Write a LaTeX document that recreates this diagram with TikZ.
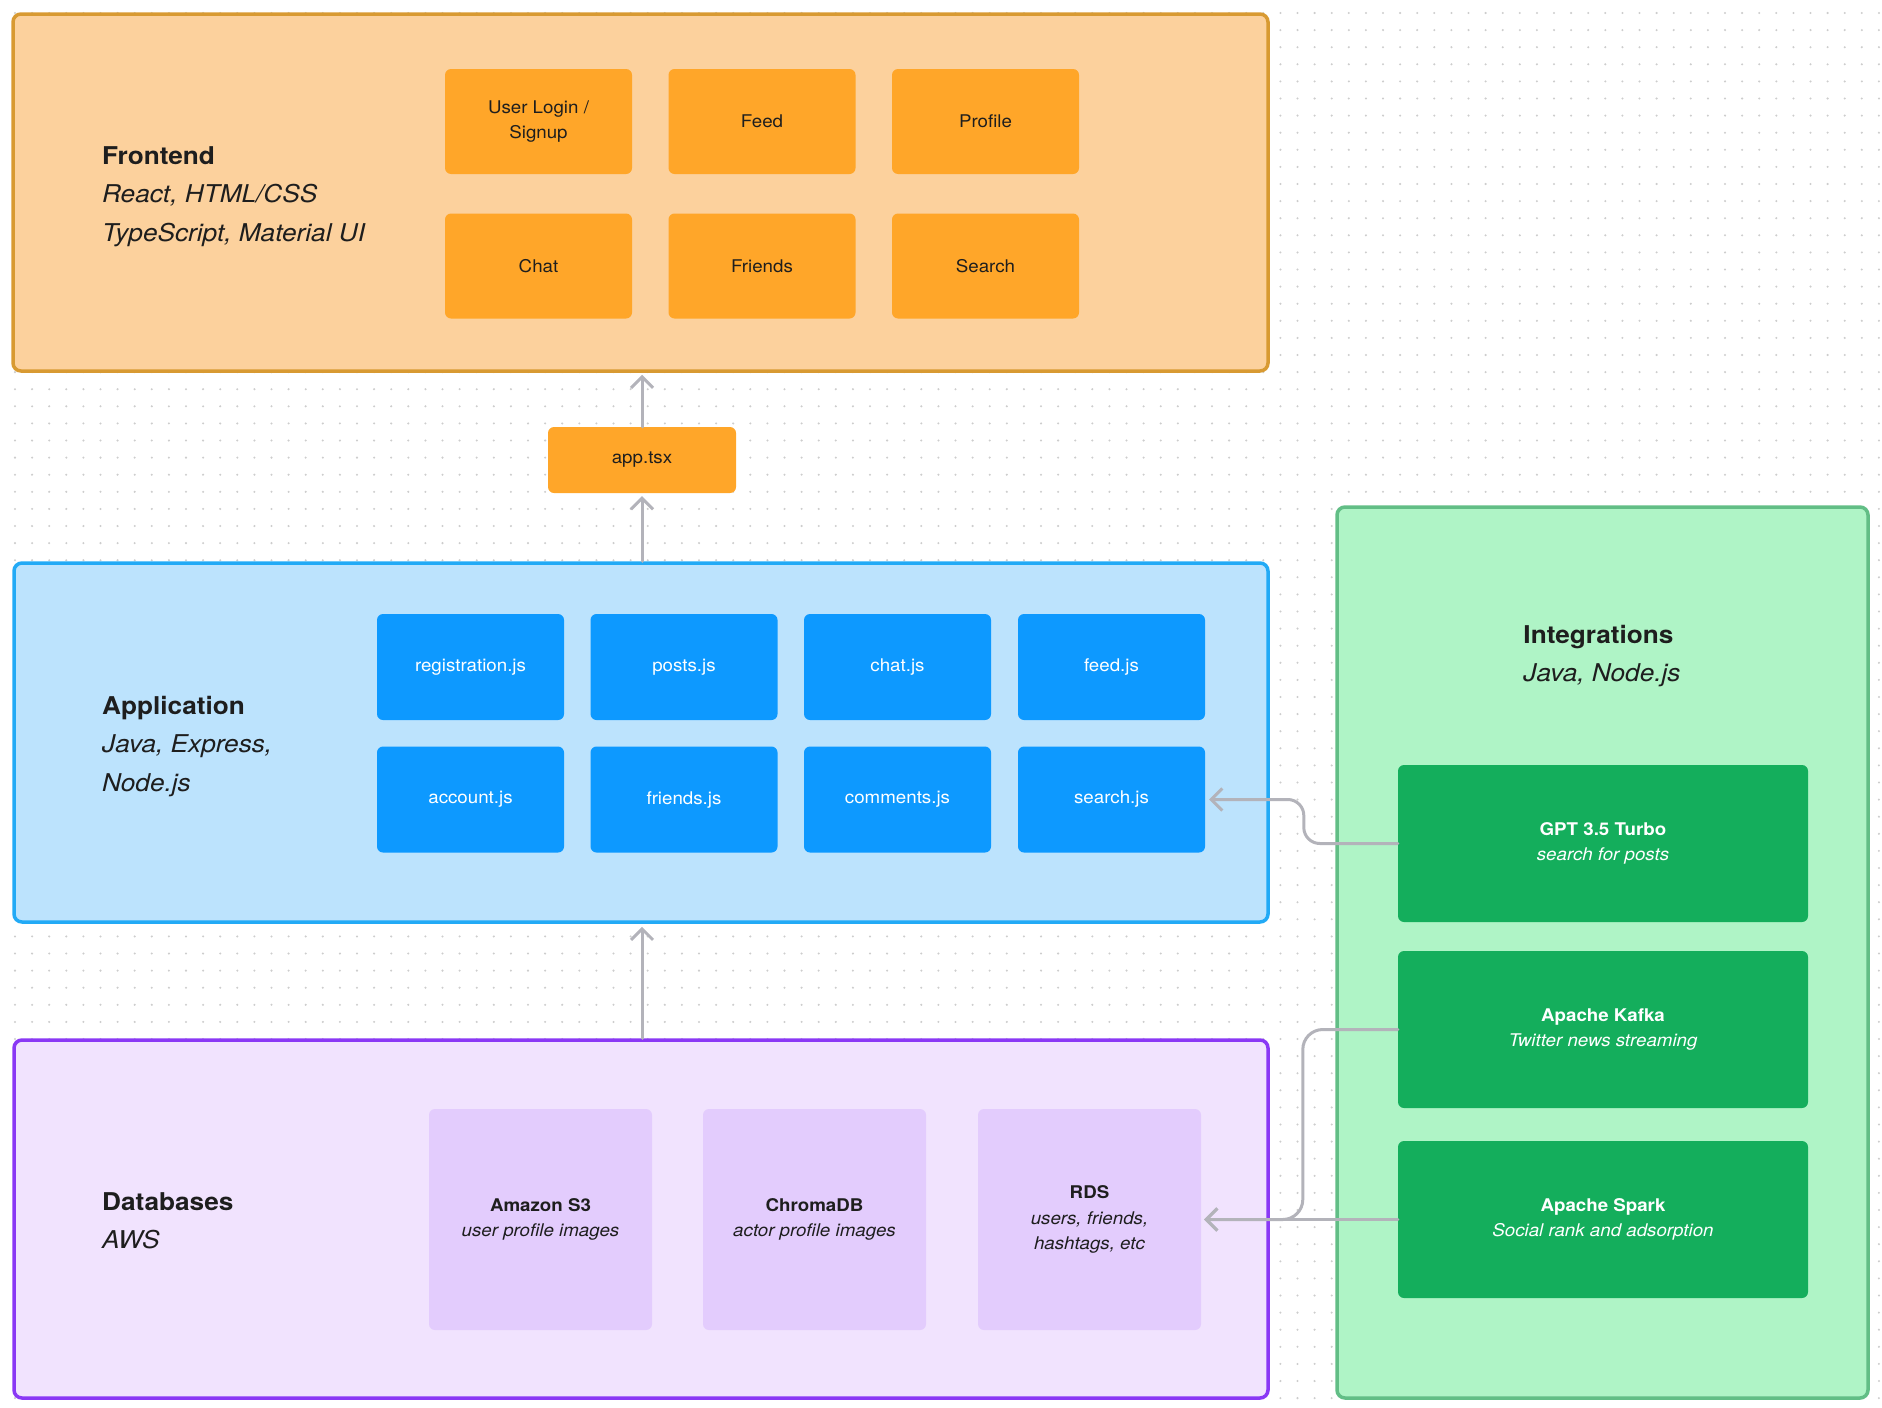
\documentclass[tikz,border=0pt]{standalone}
\usepackage{fontspec}
\setmainfont{TeX Gyre Heros}[FakeStretch=1.07]
\usetikzlibrary{arrows.meta}

\definecolor{feFill}{HTML}{FCD19D}
\definecolor{feLine}{HTML}{D89A32}
\definecolor{feCell}{HTML}{FFA629}
\definecolor{apFill}{HTML}{BCE3FD}
\definecolor{apLine}{HTML}{22AAF6}
\definecolor{apCell}{HTML}{0D99FF}
\definecolor{inFill}{HTML}{AFF4C6}
\definecolor{inLine}{HTML}{62BE86}
\definecolor{inCell}{HTML}{14AE5C}
\definecolor{dbFill}{HTML}{F1E3FE}
\definecolor{dbLine}{HTML}{8A38F5}
\definecolor{dbCell}{HTML}{E3CCFD}
\definecolor{txtDark}{HTML}{1E1E1E}
\definecolor{connGray}{HTML}{B3B3BA}
\definecolor{dotGray}{HTML}{CDCDCD}

\newcommand{\cellfont}{\fontsize{17.5}{25.5}\selectfont}
\newcommand{\headfont}{\fontsize{24.5}{38.5}\selectfont}

\begin{document}
\begin{tikzpicture}[x=1pt,y=-1pt,
  layer/.style={rounded corners=8, line width=3.5, inner sep=0},
  head/.style={anchor=north west, inner sep=0, align=left, font=\headfont, text=txtDark},
  cell/.style={rounded corners=6, inner sep=0, align=center, font=\cellfont},
  fecell/.style={cell, fill=feCell, text=txtDark, minimum width=187, minimum height=105},
  apcell/.style={cell, fill=apCell, text=white, minimum width=187, minimum height=106},
  incell/.style={cell, fill=inCell, text=white, minimum width=410, minimum height=157},
  dbcell/.style={cell, fill=dbCell, text=txtDark, minimum width=223, minimum height=221},
  dotrow/.style={draw=dotGray, line width=2.3, line cap=round, dash pattern=on 0pt off 17.1pt},
  conn/.style={draw=connGray, line width=3, line cap=round,
    -{Straight Barb[length=11,width=22,line width=3]}}]
\useasboundingbox (0,0) rectangle (1882,1408);
% dotted canvas:
\foreach \j in {0,...,81}
  \draw[dotrow] (15,13+17.1*\j) -- (1882,13+17.1*\j);

% frontend:
\node[layer, draw=feLine, fill=feFill, minimum width=1255, minimum height=357] (front) at (640.5,192.5) {};
\node[head] (fehead) at (102,146) {\textbf{Frontend}\\\textit{React, HTML/CSS}\\\textit{TypeScript, Material UI}};
\node[fecell] (login) at (538.5,121.5) {User Login /\\Signup};
\node[fecell] (feed) at (762,121.5) {Feed};
\node[fecell] (profile) at (985.5,121.5) {Profile};
\node[fecell] (chat) at (538.5,266) {Chat};
\node[fecell] (friends) at (762,266) {Friends};
\node[fecell] (search) at (985.5,266) {Search};
\node[cell, fill=feCell, text=txtDark, minimum width=188, minimum height=66] (app) at (642,460) {app.tsx};

% application:
\node[layer, draw=apLine, fill=apFill, minimum width=1254, minimum height=359] (back) at (641,742.5) {};
\node[head] (aphead) at (102,696) {\textbf{Application}\\\textit{Java, Express,}\\\textit{Node.js}};
\node[apcell] (regjs) at (470.5,667) {registration.js};
\node[apcell] (postsjs) at (684,667) {posts.js};
\node[apcell] (chatjs) at (897.5,667) {chat.js};
\node[apcell] (feedjs) at (1111.5,667) {feed.js};
\node[apcell] (accountjs) at (470.5,799.5) {account.js};
\node[apcell] (friendsjs) at (684,799.5) {friends.js};
\node[apcell] (commentsjs) at (897.5,799.5) {comments.js};
\node[apcell] (searchjs) at (1111.5,799.5) {search.js};

% databases:
\node[layer, draw=dbLine, fill=dbFill, minimum width=1254, minimum height=358] (db) at (641,1219) {};
\node[head] (dbhead) at (102,1192) {\textbf{Databases}\\\textit{AWS}};
\node[dbcell] (s3) at (540.5,1219.5) {\textbf{Amazon S3}\\\textit{user profile images}};
\node[dbcell] (chroma) at (814.5,1219.5) {\textbf{ChromaDB}\\\textit{actor profile images}};
\node[dbcell] (rds) at (1089.5,1219.5) {\textbf{RDS}\\\textit{users, friends,}\\\textit{hashtags, etc}};

% integrations:
\node[layer, draw=inLine, fill=inFill, minimum width=531, minimum height=891] (integ) at (1602.5,952.5) {};
\node[head, anchor=north] (inhead) at (1602,625) {\textbf{Integrations}\\\textit{Java, Node.js}};
\node[incell] (gpt) at (1603,843.5) {\textbf{GPT 3.5 Turbo}\\\textit{search for posts}};
\node[incell] (kafka) at (1603,1029.5) {\textbf{Apache Kafka}\\\textit{Twitter news streaming}};
\node[incell] (spark) at (1603,1219.5) {\textbf{Apache Spark}\\\textit{Social rank and adsorption}};

% connectors:
\draw[conn, shorten >=2] (app.north) -- (app.north |- front.south);
\draw[conn, shorten >=3] (app.south |- back.north) -- (app.south);
\draw[conn, shorten >=3] (app.south |- db.north) -- (app.south |- back.south);
\draw[conn, shorten >=4, rounded corners=16] (gpt.west) -- ++(-94,0) |- (searchjs.east);
\draw[conn, shorten >=3, rounded corners=20] (kafka.west) -- ++(-95,0) |- (rds.east);
\draw[conn, shorten >=3] (spark.west) -- (rds.east);
\end{tikzpicture}
\end{document}
